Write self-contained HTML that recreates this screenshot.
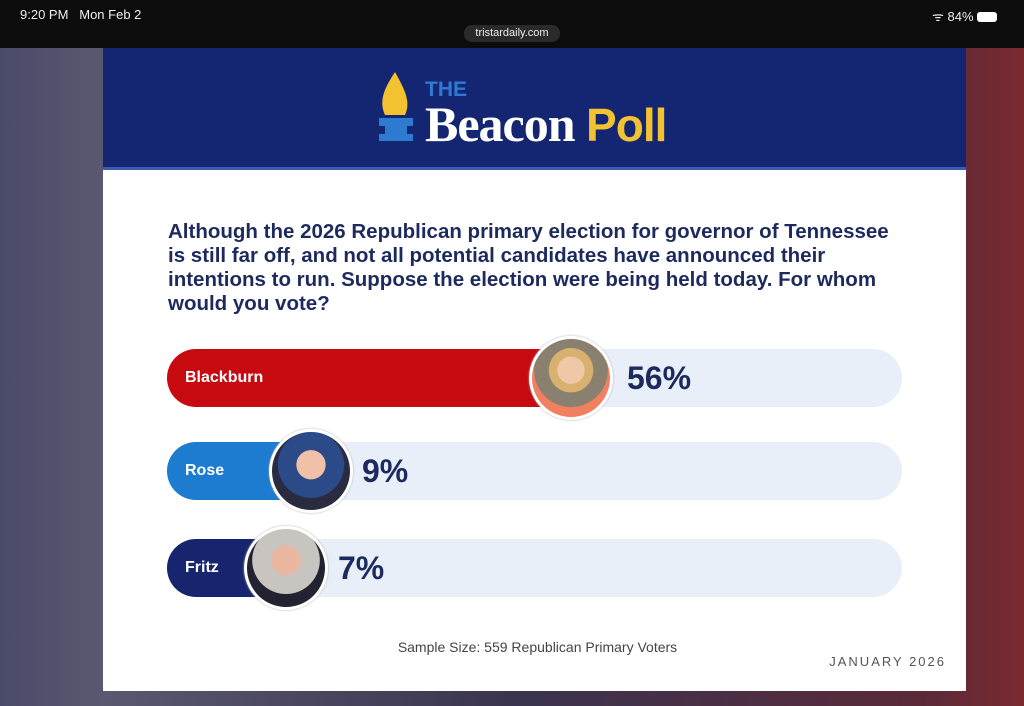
<!DOCTYPE html>
<html><head><meta charset="utf-8"><style>
*{margin:0;padding:0;box-sizing:border-box}
body{width:1024px;height:706px;overflow:hidden;position:relative;font-family:"Liberation Sans",sans-serif;background:linear-gradient(90deg,#4a4a6a 0%,#5a5870 10%,#3a3450 50%,#5a2a38 90%,#7a2a30 100%)}
.top{position:absolute;left:0;top:0;width:1024px;height:48px;background:#0c0c0c;color:#eee;font-size:13px}
.card{position:absolute;left:103px;top:48px;width:863px;height:643px;background:#fff}
.hdr{position:absolute;left:0;top:0;width:863px;height:122px;background:#142672;border-bottom:3px solid #3a5cb0}
.q{position:absolute;left:65px;top:172px;width:760px;font-weight:bold;font-size:20.5px;line-height:24px;color:#1d2a5e;white-space:nowrap}
.track{position:absolute;left:64px;width:735px;height:58px;border-radius:29px;background:#e9eff9}
.bar{position:absolute;left:0;top:0;height:58px;border-radius:29px 0 0 29px;color:#fff;font-weight:bold;font-size:16px;line-height:58px;padding-left:18px}
.av{position:absolute;width:84px;height:84px;border-radius:50%;border:3px solid #fff;top:-13px;box-shadow:0 0 2px #aaa;overflow:hidden}
.pct{position:absolute;top:0;line-height:58px;font-size:32px;font-weight:bold;color:#1d2a5e}
</style></head><body>
<div class="top">
<span style="position:absolute;left:20px;top:7px">9:20 PM&nbsp;&nbsp; Mon Feb 2</span>
<span style="position:absolute;left:464px;top:25px;width:96px;height:17px;background:#2a2a2a;border-radius:8px;font-size:11px;text-align:center;line-height:17px">tristardaily.com</span>
<span style="position:absolute;left:932px;top:7px">ᯤ 84% <span style="display:inline-block;width:20px;height:10px;background:#fff;border-radius:3px;vertical-align:-1px"></span></span>
</div>
<div class="card">
<div class="hdr">
<svg style="position:absolute;left:272px;top:22px" width="42" height="74"><path d="M20 2 C8 20 4 32 10 45 L30 45 C36 32 30 20 20 2Z" fill="#f2c230"/><rect x="4" y="48" width="34" height="8" fill="#2d7bd0"/><rect x="10" y="56" width="22" height="8" fill="#2d7bd0"/><rect x="4" y="64" width="34" height="7" fill="#2d7bd0"/></svg>
<div style="position:absolute;left:322px;top:30px;color:#2d7bd0;font-weight:bold;font-size:21px">THE</div>
<div style="position:absolute;left:322px;top:47px;font-size:50px;font-weight:bold;font-family:'Liberation Serif',serif;color:#fff;letter-spacing:-1px;white-space:nowrap">Beacon <span style="font-family:'Liberation Sans',sans-serif;color:#f2c230;font-size:46px">Poll</span></div>
</div>
<div class="q">Although the 2026 Republican primary election for governor of Tennessee<br>is still far off, and not all potential candidates have announced their<br>intentions to run. Suppose the election were being held today. For whom<br>would you vote?</div>
<div class="track" style="top:301px"><div class="bar" style="width:375px;background:#c60a0f">Blackburn</div><div class="av" style="left:362px;background:radial-gradient(circle at 50% 40%,#f0c8a8 0 22%,#d8b070 23% 36%,#8a8070 37% 60%,#f08060 61%)"></div><div class="pct" style="left:460px">56%</div></div>
<div class="track" style="top:394px"><div class="bar" style="width:118px;background:#1d7bd0">Rose</div><div class="av" style="left:102px;background:radial-gradient(circle at 50% 42%,#f0c0a8 0 24%,#2a4a88 25% 55%,#2a2a40 56%)"></div><div class="pct" style="left:195px">9%</div></div>
<div class="track" style="top:491px"><div class="bar" style="width:95px;background:#16256e">Fritz</div><div class="av" style="left:77px;background:radial-gradient(circle at 50% 40%,#eab8a0 0 24%,#c8c4c0 25% 55%,#222230 56%)"></div><div class="pct" style="left:171px">7%</div></div>
<div style="position:absolute;left:0;width:869px;text-align:center;top:591px;font-size:14px;color:#444">Sample Size: 559 Republican Primary Voters</div>
<div style="position:absolute;right:20px;top:606px;font-size:13px;color:#555;letter-spacing:2px">JANUARY 2026</div>
</div>
</body></html>
